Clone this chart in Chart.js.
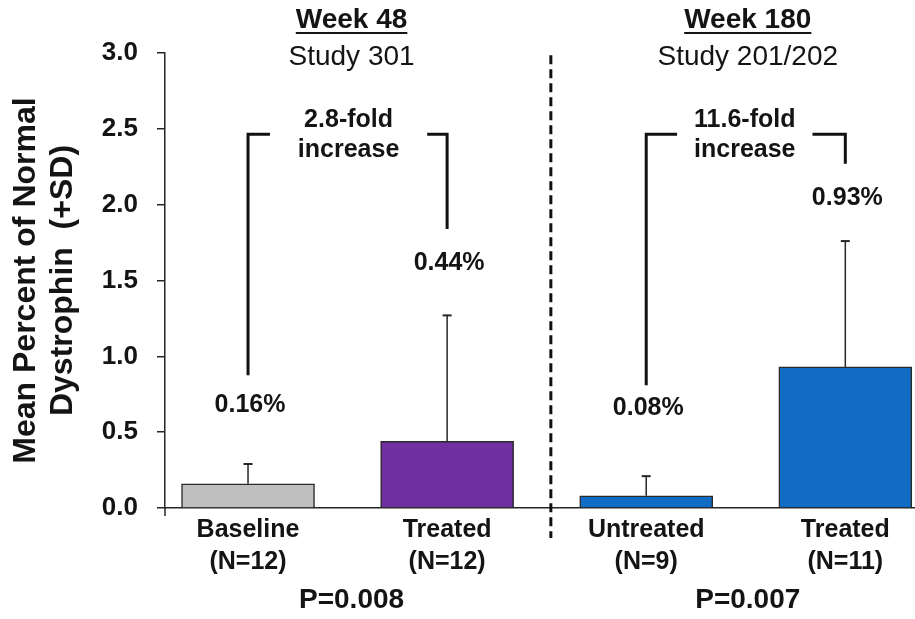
<!DOCTYPE html>
<html>
<head>
<meta charset="utf-8">
<title>Dystrophin</title>
<script src="https://cdn.jsdelivr.net/npm/chart.js@4.4.1/dist/chart.umd.min.js"></script>
<style>
  html, body { margin: 0; padding: 0; background: #fff; }
  #wrap { width: 915px; height: 619px; position: relative; }
</style>
</head>
<body>
<div id="wrap"><canvas id="dystrophinChart"></canvas></div>
<script>
// Bars (one per group, left to right)
const groups = ['Baseline', 'Treated', 'Untreated', 'Treated'];
const sampleSizes = ['(N=12)', '(N=12)', '(N=9)', '(N=11)'];
const meanValues = [0.16, 0.44, 0.08, 0.93];
const sdValues = [0.13, 0.83, 0.13, 0.83];
const valueLabels = ['0.16%', '0.44%', '0.08%', '0.93%'];
const barColors = ['#BFBFBF', '#7030A0', '#116CC5', '#116CC5'];
const yTicks = [0, 0.5, 1.0, 1.5, 2.0, 2.5, 3.0];

// Two study panels
const panelTitles = ['Week 48', 'Week 180'];
const panelStudies = ['Study 301', 'Study 201/202'];
const foldLabels = ['2.8-fold', '11.6-fold'];
const pValues = ['P=0.008', 'P=0.007'];

// Where the annotations sit, in axis units
const annot = {
    labelY: [0.68, 1.615, 0.66, 2.04],
    panelX: [0.52, 2.51],
    dividerX: 1.521,
    brackets: [
        { from: 0, to: 1, top: 2.465, fromEnd: 0.875, toEnd: 1.84, gap: [0.11, 0.9] },
        { from: 2, to: 3, top: 2.465, fromEnd: 0.81, toEnd: 2.27, gap: [2.155, 2.835] }
    ]
};

const INK = '#141414';
const FONT = '"Liberation Sans", Arial, sans-serif';
Chart.defaults.font.family = FONT;
Chart.defaults.color = INK;

function drawText(ctx, text, x, y, font) {
    ctx.font = font;
    ctx.textAlign = 'center';
    ctx.textBaseline = 'middle';
    ctx.fillText(text, x, y);
}

const annotationsPlugin = {
    id: 'dystrophinAnnotations',
    afterDatasetsDraw(chart) {
        const { ctx, chartArea } = chart;
        const x = chart.scales.x;
        const y = chart.scales.y;
        ctx.save();
        ctx.fillStyle = INK;

        // +SD error bars
        ctx.strokeStyle = '#262626';
        meanValues.forEach((m, i) => {
            const px = x.getPixelForValue(i);
            const yBase = y.getPixelForValue(m);
            const yTop = y.getPixelForValue(m + sdValues[i]);
            ctx.lineWidth = 1.5;
            ctx.beginPath();
            ctx.moveTo(px, yBase);
            ctx.lineTo(px, yTop);
            ctx.stroke();
            ctx.lineWidth = 2;
            ctx.beginPath();
            ctx.moveTo(px - 4.5, yTop);
            ctx.lineTo(px + 4.5, yTop);
            ctx.stroke();
        });

        // little tick where the axes cross
        ctx.lineWidth = 1.5;
        ctx.beginPath();
        ctx.moveTo(chartArea.left, chartArea.bottom);
        ctx.lineTo(chartArea.left, chartArea.bottom + 8);
        ctx.stroke();

        // dashed divider between the studies
        const dx = x.getPixelForValue(annot.dividerX);
        ctx.strokeStyle = '#111';
        ctx.lineWidth = 3;
        ctx.setLineDash([9, 5]);
        ctx.beginPath();
        ctx.moveTo(dx, y.getPixelForValue(2.985));
        ctx.lineTo(dx, chartArea.bottom + 30);
        ctx.stroke();
        ctx.setLineDash([]);

        // fold-change brackets
        annot.brackets.forEach((b, k) => {
            const top = y.getPixelForValue(b.top);
            const x0 = x.getPixelForValue(b.from);
            const x1 = x.getPixelForValue(b.to);
            ctx.lineWidth = 3;
            ctx.lineCap = 'butt';
            ctx.lineJoin = 'miter';
            ctx.beginPath();
            ctx.moveTo(x0, y.getPixelForValue(b.fromEnd));
            ctx.lineTo(x0, top);
            ctx.lineTo(x.getPixelForValue(b.gap[0]), top);
            ctx.stroke();
            ctx.beginPath();
            ctx.moveTo(x.getPixelForValue(b.gap[1]), top);
            ctx.lineTo(x1, top);
            ctx.lineTo(x1, y.getPixelForValue(b.toEnd));
            ctx.stroke();

            const cx = (x.getPixelForValue(b.gap[0]) + x.getPixelForValue(b.gap[1])) / 2;
            drawText(ctx, foldLabels[k], cx, top - 14, 'bold 25px ' + FONT);
            drawText(ctx, 'increase', cx, top + 16, 'bold 25px ' + FONT);
        });

        // value labels above bars
        valueLabels.forEach((t, i) => {
            drawText(ctx, t, x.getPixelForValue(i) + 2, y.getPixelForValue(annot.labelY[i]), 'bold 25px ' + FONT);
        });

        // panel headings and p-values
        annot.panelX.forEach((v, k) => {
            const cx = x.getPixelForValue(v);
            drawText(ctx, panelTitles[k], cx, 20, 'bold 28px ' + FONT);
            const w = ctx.measureText(panelTitles[k]).width;
            ctx.strokeStyle = INK;
            ctx.lineWidth = 2;
            ctx.beginPath();
            ctx.moveTo(cx - w / 2, 33);
            ctx.lineTo(cx + w / 2, 33);
            ctx.stroke();
            drawText(ctx, panelStudies[k], cx, 57, '28px ' + FONT);
            drawText(ctx, pValues[k], cx, chartArea.bottom + 92, 'bold 28px ' + FONT);
        });

        ctx.restore();
    }
};

const canvas = document.getElementById('dystrophinChart');
new Chart(canvas, {
    type: 'bar',
    data: {
        datasets: [{
            data: meanValues.map((v, i) => ({ x: i, y: v })),
            backgroundColor: barColors,
            borderColor: '#2a2a2a',
            borderWidth: 1.5,
            borderSkipped: 'start',
            barThickness: 133
        }]
    },
    options: {
        responsive: true,
        maintainAspectRatio: false,
        animation: false,
        layout: { padding: { top: 53, right: 0, bottom: 0, left: 0 } },
        plugins: {
            legend: { display: false },
            tooltip: { enabled: false }
        },
        scales: {
            x: {
                type: 'linear',
                offset: false,
                min: -0.417,
                max: 3.35,
                afterBuildTicks: (scale) => {
                    scale.ticks = groups.map((_, i) => ({ value: i }));
                },
                afterFit: (scale) => { scale.height = 111; },
                grid: { display: false, drawTicks: false },
                border: { display: true, color: '#262626', width: 1.5 },
                ticks: {
                    autoSkip: false,
                    maxRotation: 0,
                    padding: 6,
                    color: INK,
                    font: { size: 25, weight: 'bold', lineHeight: 1.28 },
                    callback: (v) => [groups[v], sampleSizes[v]]
                }
            },
            y: {
                min: 0,
                max: 3,
                afterBuildTicks: (scale) => {
                    scale.ticks = yTicks.map((v) => ({ value: v }));
                },
                afterFit: (scale) => { scale.width = 165; },
                grid: {
                    drawOnChartArea: false,
                    drawTicks: true,
                    tickLength: 8,
                    color: '#262626',
                    lineWidth: 1.5
                },
                border: { display: true, color: '#262626', width: 1.5 },
                ticks: {
                    padding: 19,
                    color: INK,
                    font: { size: 26, weight: 'bold' },
                    callback: (v) => v.toFixed(1)
                },
                title: {
                    display: true,
                    text: ['Mean Percent of Normal', 'Dystrophin  (+SD)'],
                    color: INK,
                    font: { size: 32, weight: 'bold', lineHeight: 1.18 },
                    padding: { top: 7, bottom: 0 }
                }
            }
        }
    },
    plugins: [annotationsPlugin]
});
</script>
</body>
</html>
